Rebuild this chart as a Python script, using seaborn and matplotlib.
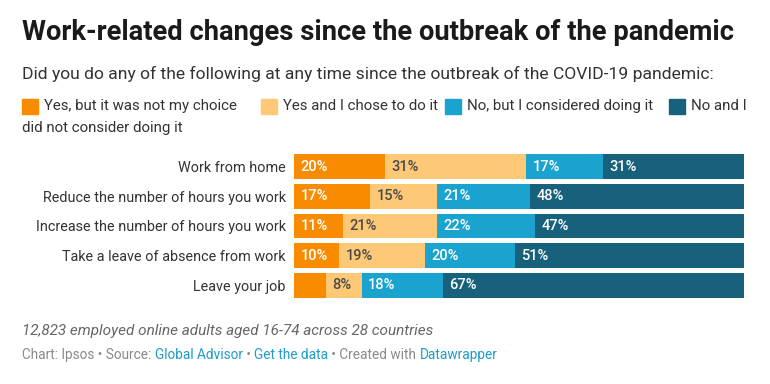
import matplotlib

matplotlib.use("Agg")
import matplotlib.pyplot as plt
import numpy as np
import pandas as pd
import seaborn as sns
from matplotlib.patches import Rectangle

categories = [
    "Work from home",
    "Reduce the number of hours you work",
    "Increase the number of hours you work",
    "Take a leave of absence from work",
    "Leave your job",
]
series = [
    "Yes, but it was not my choice",
    "Yes and I chose to do it",
    "No, but I considered doing it",
    "No and I did not consider doing it",
]
not_my_choice = [20, 17, 11, 10, 7]
chose_to = [31, 15, 21, 19, 8]
considered = [17, 21, 22, 20, 18]
not_considered = [31, 48, 47, 51, 67]
show_label = [
    [True, True, True, True, False],
    [True] * 5,
    [True] * 5,
    [True] * 5,
]

colors = ["#f88b00", "#fec977", "#1ba3d0", "#17617c"]
label_colors = ["white", "#4a4a4a", "white", "white"]

sns.set_theme(style="white")
plt.rcParams["font.family"] = ["Roboto", "DejaVu Sans"]

values = np.array([not_my_choice, chose_to, considered, not_considered], dtype=float)
# rows are stacked to 100%
shares = values / values.sum(axis=0) * 100
cum = np.cumsum(shares, axis=0)
starts = cum - shares

fig = plt.figure(figsize=(7.7, 3.84), dpi=100)
ax = fig.add_axes([294 / 770, 1 - 300 / 384, 450 / 770, 148 / 384])

# stacked bars: draw cumulative totals from longest to shortest
for i in range(len(series) - 1, -1, -1):
    df = pd.DataFrame({"cat": categories, "val": cum[i]})
    sns.barplot(data=df, x="val", y="cat", color=colors[i], orient="h",
                width=0.84, saturation=1, ax=ax, edgecolor="none")

for i in range(len(series)):
    for j in range(len(categories)):
        if show_label[i][j]:
            ax.text(starts[i, j] + 1.5, j, f"{int(values[i, j])}%",
                    va="center", ha="left", fontsize=10.5,
                    color=label_colors[i], fontweight="medium")

ax.set_xlim(0, 100)
ax.set_ylim(len(categories) - 0.5, -0.5)
ax.set_xlabel("")
ax.set_ylabel("")
ax.set_xticks([])
ax.tick_params(axis="y", length=0, pad=6, labelsize=10.4, labelcolor="#333333")
for s in ax.spines.values():
    s.set_visible(False)

fig.text(22 / 770, 1 - 33 / 384, "Work-related changes since the outbreak of the pandemic",
         fontsize=19.7, fontweight="bold", color="#1a1a1a", va="center", ha="left")
fig.text(22 / 770, 1 - 74 / 384,
         "Did you do any of the following at any time since the outbreak of the COVID-19 pandemic:",
         fontsize=12.6, color="#333333", va="center", ha="left")

# legend (wraps onto two lines like the original)
legend_items = [
    (colors[0], "Yes, but it was not my choice", 22),
    (colors[1], "Yes and I chose to do it", 261),
    (colors[2], "No, but I considered doing it", 445),
    (colors[3], "No and I", 669),
]
for col, txt, xpx in legend_items:
    fig.patches.append(Rectangle((xpx / 770, 1 - 114 / 384), 16 / 770, 15 / 384,
                                 transform=fig.transFigure, color=col))
    fig.text((xpx + 22) / 770, 1 - 106 / 384, txt, fontsize=10.8, color="#333333",
             va="center", ha="left")
fig.text(22 / 770, 1 - 128 / 384, "did not consider doing it", fontsize=10.8,
         color="#333333", va="center", ha="left")

fig.text(22 / 770, 1 - 331 / 384, "12,823 employed online adults aged 16-74 across 28 countries",
         fontsize=11, style="italic", color="#666666", va="center", ha="left")

parts = [
    ("Chart: Ipsos • Source: ", "#8a8a8a"),
    ("Global Advisor", "#1d9cc8"),
    (" • ", "#8a8a8a"),
    ("Get the data", "#1d9cc8"),
    (" • Created with ", "#8a8a8a"),
    ("Datawrapper", "#1d9cc8"),
]
fig.canvas.draw()
renderer = fig.canvas.get_renderer()
x = 22 / 770
for txt, col in parts:
    t = fig.text(x, 1 - 355 / 384, txt, fontsize=9.85, color=col, va="center", ha="left")
    bb = t.get_window_extent(renderer=renderer)
    x += bb.width / fig.bbox.width

fig.savefig("out.png", dpi=100)
